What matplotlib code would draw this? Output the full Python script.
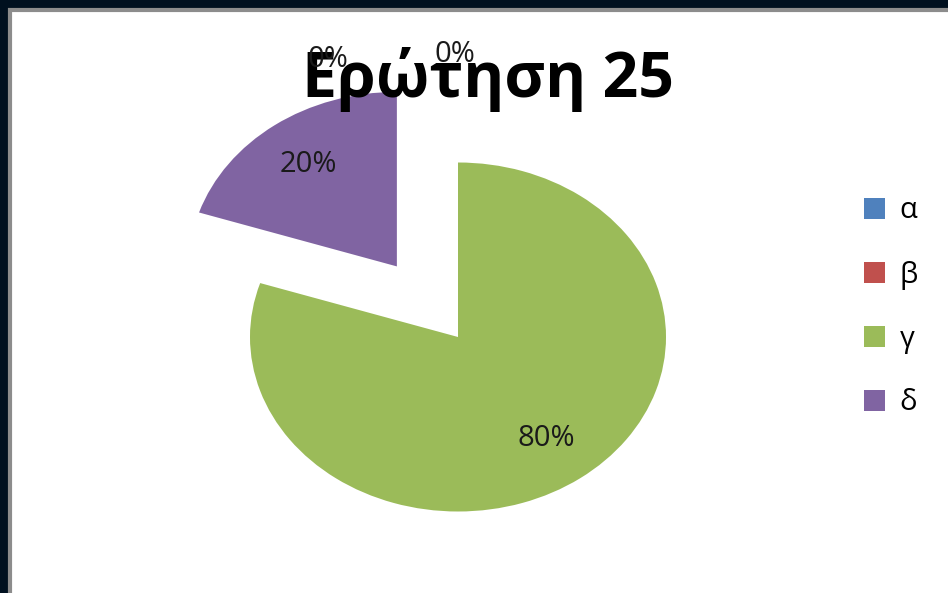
import matplotlib.pyplot as plt
from matplotlib.patches import Rectangle

# Data
labels = ['α', 'β', 'γ', 'δ']
values = [0, 0, 80, 20]
colors = ['#4F81BD', '#C0504D', '#9BBB59', '#8064A2']
explode = [0, 0, 0, 0.5]
title = 'Ερώτηση 25'

plt.rcParams['font.family'] = ['Open Sans', 'DejaVu Sans']

W, H = 948, 593
fig = plt.figure(figsize=(W / 100, H / 100), dpi=100, facecolor='#00101F')

# white panel with grey edge inside the dark frame
fig.add_artist(Rectangle((10 / W, -0.05), 1, 1.05 - 10 / H, transform=fig.transFigure,
                         facecolor='white', edgecolor='#8C8C8C', linewidth=3,
                         zorder=-10))

# pie centre and radii in pixels (elliptical pie)
cx, cy = 458, H - 337
rx, ry = 208, 174.5
lim = 1.5
ax = fig.add_axes([(cx - lim * rx) / W, (cy - lim * ry) / H,
                   2 * lim * rx / W, 2 * lim * ry / H])
ax.patch.set_alpha(0)
wedges, texts, autotexts = ax.pie(values, colors=colors, explode=explode,
                                  startangle=90, counterclock=False,
                                  autopct='%1.0f%%', pctdistance=0.72,
                                  textprops={'fontsize': 21, 'color': '#1a1a1a'})
ax.set_aspect('auto')
ax.set_xlim(-lim, lim)
ax.set_ylim(-lim, lim)
ax.axis('off')

# zero-valued slice labels sit near the top, drawn over the title
zero_pos = [(-0.625, 1.59), (-0.015, 1.62)]
for t, p in zip([a for a, v in zip(autotexts, values) if v == 0], zero_pos):
    t.set_position(p)
for t in autotexts:
    t.set_zorder(5)

# title sits above the wedges but under the percentage labels
ax.text(488 / W, 1 - 80 / H, title, transform=fig.transFigure, ha='center', va='center',
        fontsize=45, fontweight='bold', color='black', zorder=2, clip_on=False)

fig.legend(wedges, labels, loc='center left', bbox_to_anchor=(838 / W, 1 - 307 / H),
           frameon=False, fontsize=21, handlelength=0.72, handleheight=0.72,
           handletextpad=0.5, labelspacing=1.2)

fig.savefig('out.png', dpi=100, facecolor=fig.get_facecolor())
